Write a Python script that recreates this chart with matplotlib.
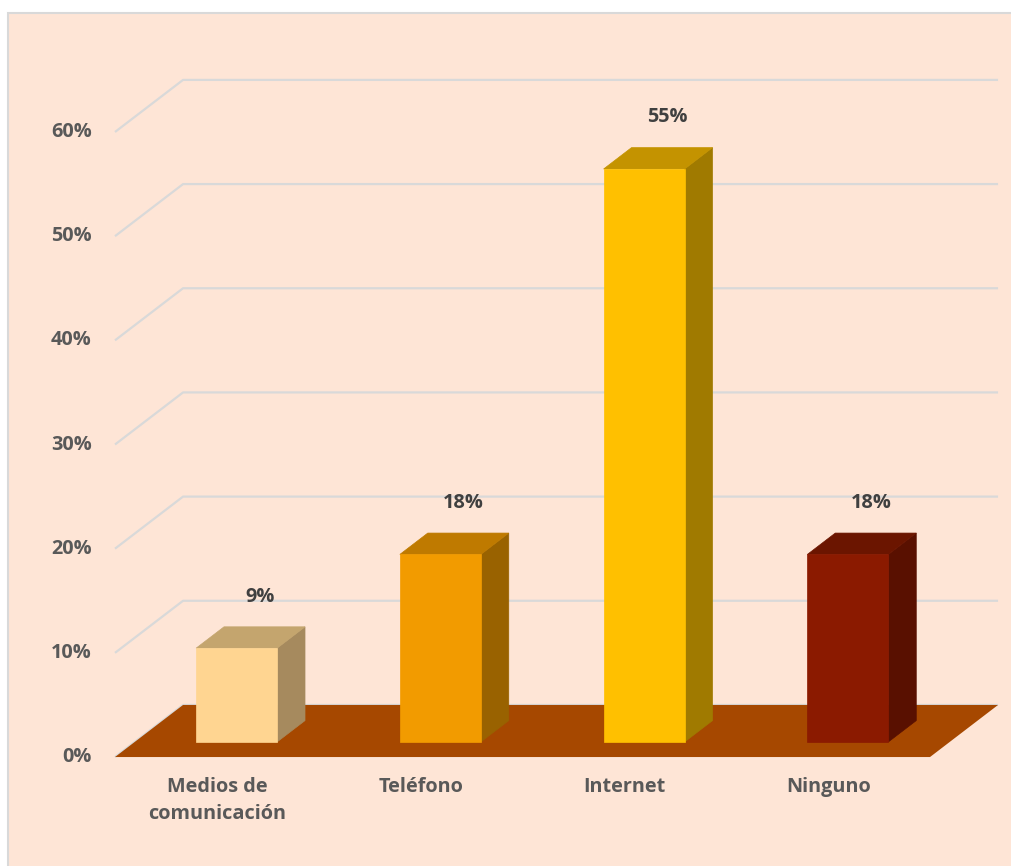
import matplotlib
matplotlib.use("Agg")
import matplotlib.pyplot as plt
from matplotlib.patches import Polygon, Rectangle

# Data
categories = ["Medios de\ncomunicación", "Teléfono", "Internet", "Ninguno"]
values = [9, 18, 55, 18]
value_labels = ["9%", "18%", "55%", "18%"]
ytick_values = [0, 10, 20, 30, 40, 50, 60]
ytick_labels = ["0%", "10%", "20%", "30%", "40%", "50%", "60%"]

front_colors = ["#FFD591", "#F29B00", "#FFC000", "#8B1A00"]
top_colors = ["#C4A56E", "#BF7A00", "#C49300", "#6B1500"]
side_colors = ["#A68A5E", "#996200", "#A07A00", "#591000"]

BG = "#FEE5D6"
GRID = "#D9D9D9"
FLOOR = "#A64800"
TEXT = "#595959"
VALUE_TEXT = "#404040"
FONT = "Open Sans"
FS = 14.3

# Oblique projection: full depth of the scene in data units
DEPTH_X = 0.334
DEPTH_Y = 5.0
BAR_W = 0.3975
BAR_D0 = 0.29   # depth fraction of bar front face
BAR_D1 = 0.70   # depth fraction of bar back face

fig = plt.figure(figsize=(10.11, 8.66), dpi=100)
fig.patch.set_facecolor("white")
ax = fig.add_axes([0, 0, 1, 1])
ax.set_xlim(-1.0644, 3.8975)
ax.set_ylim(-10.46, 72.67)
ax.axis("off")

# Chart panel
ax.add_patch(Rectangle((8 / 1011, -0.01), 1.0, 1 - 13 / 866 + 0.01,
                       transform=ax.transAxes, facecolor=BG,
                       edgecolor=GRID, linewidth=1.5, zorder=0))

n = len(categories)
x_left, x_right = -0.5, n - 0.5

# Back wall gridlines with the slanted side-wall segments
for v in ytick_values:
    ax.plot([x_left, x_left + DEPTH_X, x_right + DEPTH_X],
            [v, v + DEPTH_Y, v + DEPTH_Y],
            color=GRID, linewidth=1.6, zorder=1, solid_capstyle="butt")

# Floor
ax.add_patch(Polygon([(x_left, 0), (x_right, 0),
                      (x_right + DEPTH_X, DEPTH_Y), (x_left + DEPTH_X, DEPTH_Y)],
                     closed=True, facecolor=FLOOR, edgecolor="none", zorder=2))

# 3D-looking bars
for i, v in enumerate(values):
    fx = i - BAR_W / 2 + BAR_D0 * DEPTH_X
    fy = BAR_D0 * DEPTH_Y
    ddx = (BAR_D1 - BAR_D0) * DEPTH_X
    ddy = (BAR_D1 - BAR_D0) * DEPTH_Y
    front = [(fx, fy), (fx + BAR_W, fy), (fx + BAR_W, fy + v), (fx, fy + v)]
    top = [(fx, fy + v), (fx + BAR_W, fy + v),
           (fx + BAR_W + ddx, fy + v + ddy), (fx + ddx, fy + v + ddy)]
    side = [(fx + BAR_W, fy), (fx + BAR_W + ddx, fy + ddy),
            (fx + BAR_W + ddx, fy + v + ddy), (fx + BAR_W, fy + v)]
    ax.add_patch(Polygon(side, closed=True, facecolor=side_colors[i],
                         edgecolor=side_colors[i], linewidth=0.5, zorder=3))
    ax.add_patch(Polygon(top, closed=True, facecolor=top_colors[i],
                         edgecolor=top_colors[i], linewidth=0.5, zorder=3))
    ax.add_patch(Polygon(front, closed=True, facecolor=front_colors[i],
                         edgecolor=front_colors[i], linewidth=0.5, zorder=4))
    # value label above the bar
    ax.text(i + 0.21, v + BAR_D1 * DEPTH_Y + 2.9, value_labels[i],
            ha="center", va="center", fontsize=FS, fontweight="bold",
            color=VALUE_TEXT, family=FONT, zorder=5)

# Y axis labels
for v, lab in zip(ytick_values, ytick_labels):
    ax.text(-0.615, v, lab, ha="right", va="center", fontsize=FS,
            fontweight="bold", color=TEXT, family=FONT, zorder=5)

# Category labels
for i, lab in enumerate(categories):
    ax.text(i, -1.9, lab, ha="center", va="top", fontsize=FS,
            fontweight="bold", color=TEXT, family=FONT, linespacing=1.5,
            zorder=5)

fig.savefig("out.png", dpi=100, facecolor=fig.get_facecolor())
